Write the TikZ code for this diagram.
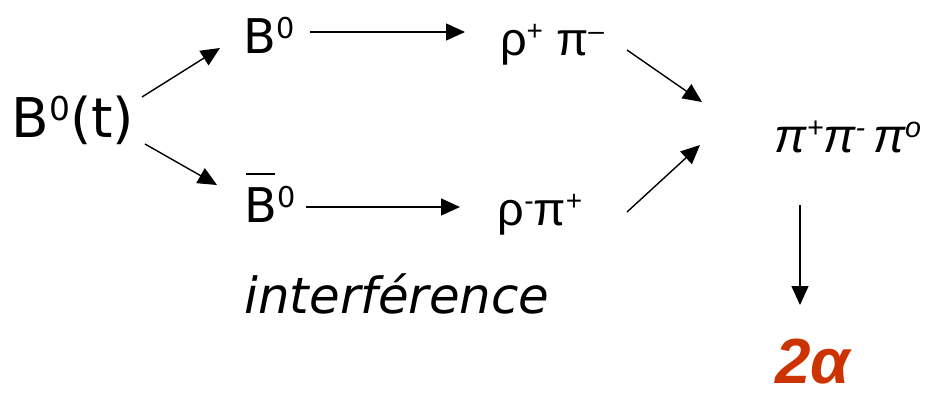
\documentclass[tikz,border=0pt]{standalone}
\usepackage{fontspec}
\setmainfont{DejaVu Sans}
\newfontfamily\grk{Liberation Sans}
\usetikzlibrary{arrows.meta}
\definecolor{alphared}{HTML}{CC3300}
\newcommand\supr[1]{\raisebox{0.30em}{\scalebox{0.6}{#1}}}
\newcommand\barB{\rlap{\hspace{0.04em}\rule[0.98em]{0.6em}{0.045em}}B}
\tikzset{
  lbl/.style={anchor=base, inner sep=0pt, outer sep=0pt},
  arr/.style={line width=1.4bp, -{Triangle[length=19bp,width=17bp]}},
}
\begin{document}
\begin{tikzpicture}[x=1bp,y=-1bp]
\useasboundingbox (0,0) rectangle (927,395);
\node[lbl, font=\fontsize{55}{62}\selectfont] (b0t) at (73,137) {B\supr{0}(t)};
\node[lbl, font=\fontsize{48}{54}\selectfont] (b0) at (269,53) {B\supr{0}};
\node[lbl, font=\fontsize{48}{54}\selectfont] (b0bar) at (270,222) {\barB\supr{0}};
\node[lbl, font=\grk\fontsize{47}{54}\selectfont] (rp1) at (552,55) {ρ\supr{+} π\supr{–}};
\node[lbl, font=\grk\fontsize{47}{54}\selectfont] (rp2) at (540,225) {ρ\supr{-}π\supr{+}};
\node[lbl, font=\grk\itshape\fontsize{48}{54}\selectfont] (ppp) at (848,152) {π\supr{+}π\supr{-}\,π\supr{o}};
\node[lbl, font=\itshape\fontsize{50}{58}\selectfont] (intf) at (397,313) {interférence};
\node[lbl, text=alphared, font=\grk\bfseries\itshape\fontsize{64}{70}\selectfont] (alpha) at (813,383) {2α};
\draw[arr] ([shift={(69,-40)}]b0t.base) -- ([shift={(-49,-5)}]b0.base);
\draw[arr] ([shift={(72,7)}]b0t.base) -- ([shift={(-53,-37)}]b0bar.base);
\draw[arr] ([shift={(41,-21)}]b0.base) -- ([shift={(-87,-23)}]rp1.base);
\draw[arr] ([shift={(36,-15)}]b0bar.base) -- ([shift={(-80,-18)}]rp2.base);
\draw[arr] ([shift={(75,-5)}]rp1.base) -- ([shift={(-146,-50)}]ppp.base);
\draw[arr] ([shift={(87,-13)}]rp2.base) -- ([shift={(-148,-7)}]ppp.base);
\draw[arr] ([shift={(-48,53)}]ppp.base) -- ([shift={(-13,-78)}]alpha.base);
\end{tikzpicture}
\end{document}
